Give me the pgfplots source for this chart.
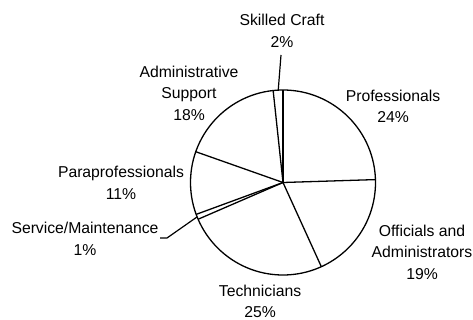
\documentclass[border=0pt]{standalone}
\usepackage{fontspec}
\setmainfont{Liberation Sans}
\usepackage{pgfplots}
\usepackage{pgfplotstable}
\pgfplotsset{compat=1.18}

% shares in percent, clockwise from 12 o'clock
\pgfplotstableread{
pct
24.5
18.7
25.3
0.9
11.0
17.9
1.7
}\piedata

\def\cx{283}
\def\cy{137.5}
\def\rad{92.5}

\begin{document}
\begin{tikzpicture}
\begin{axis}[name=ax, width=473bp, height=320bp, scale only axis,
    xmin=0, xmax=473, ymin=0, ymax=320, hide axis, clip=false]
  \draw[line width=1.3pt] (axis cs:\cx,\cy) circle[radius=\rad];
  \pgfplotstablegetrowsof{\piedata}
  \pgfmathtruncatemacro\N{\pgfplotsretval-1}
  \def\cum{0}
  \pgfplotsforeachungrouped \i in {0,...,\N}{
    \pgfmathsetmacro\ang{90-3.6*\cum}
    \pgfmathsetmacro\ex{\cx+\rad*cos(\ang)}
    \pgfmathsetmacro\ey{\cy+\rad*sin(\ang)}
    \edef\tmp{\noexpand\draw[line width=1.3pt] (axis cs:\cx,\cy) -- (axis cs:\ex,\ey);}
    \tmp
    \pgfplotstablegetelem{\i}{pct}\of\piedata
    \pgfmathsetmacro\cum{\cum+\pgfplotsretval}
  }
  % leader lines
  \draw[line width=1.2pt] (axis cs:278.2,229.5) -- (axis cs:281,265);
  \draw[line width=1.2pt] (axis cs:197.1,103.1) -- (axis cs:167,82) -- (axis cs:160,82);
  % labels
  \begin{scope}[every node/.style={align=center, font=\fontsize{15.8}{21.5}\selectfont, inner sep=0pt}]
    \node at (axis cs:282,289) {Skilled Craft\\2\%};
    \node at (axis cs:393,213.5) {Professionals\\24\%};
    \node at (axis cs:189,227) {Administrative\\Support\\18\%};
    \node at (axis cs:121,137) {Paraprofessionals\\11\%};
    \node at (axis cs:85,81) {Service/Maintenance\\1\%};
    \node at (axis cs:422,68) {Officials and\\Administrators\\19\%};
    \node at (axis cs:260,18.5) {Technicians\\25\%};
  \end{scope}
\end{axis}
\pgfresetboundingbox
\path (ax.south west) rectangle (ax.north east);
\end{tikzpicture}
\end{document}
